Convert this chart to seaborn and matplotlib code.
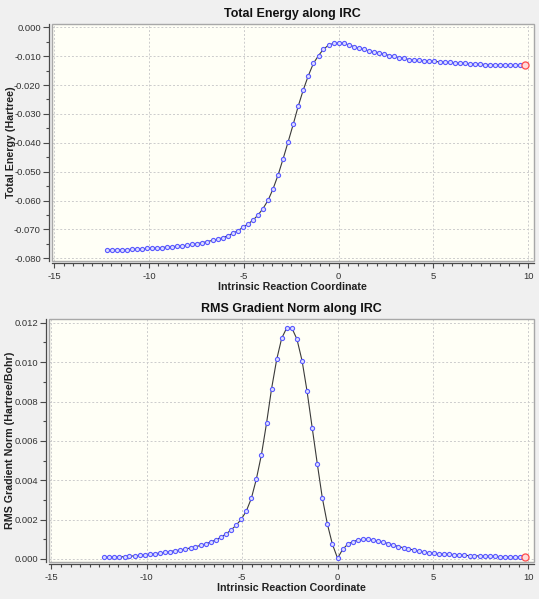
import matplotlib
matplotlib.use("Agg")
import matplotlib.pyplot as plt
import seaborn as sns
from matplotlib.patches import Rectangle
from matplotlib.ticker import MultipleLocator, FuncFormatter

# IRC coordinate (amu^1/2 Bohr): reverse branch up to the TS at 0, then forward branch
irc_reverse = [-12.24, -11.97, -11.70, -11.44, -11.17, -10.91, -10.64, -10.37, -10.11, -9.84,
               -9.58, -9.31, -9.04, -8.78, -8.51, -8.25, -7.98, -7.71, -7.45, -7.18,
               -6.92, -6.65, -6.38, -6.12, -5.85, -5.59, -5.32, -5.05, -4.79, -4.52,
               -4.26, -3.99, -3.72, -3.46, -3.19, -2.93, -2.66, -2.39, -2.13, -1.86,
               -1.60, -1.33, -1.06, -0.80, -0.53, -0.27, 0.00]
irc_forward = [0.27, 0.53, 0.80, 1.06, 1.33, 1.60, 1.86, 2.13, 2.39, 2.66,
               2.93, 3.19, 3.46, 3.72, 3.99, 4.26, 4.52, 4.79, 5.05, 5.32,
               5.59, 5.85, 6.12, 6.38, 6.65, 6.92, 7.18, 7.45, 7.71, 7.98,
               8.25, 8.51, 8.78, 9.04, 9.31, 9.58, 9.84]

# total energy relative (Hartree)
energy_reverse = [-0.0772, -0.0771, -0.0771, -0.0770, -0.0770, -0.0769, -0.0768, -0.0767, -0.0766, -0.0765,
                  -0.0764, -0.0763, -0.0761, -0.0760, -0.0758, -0.0757, -0.0755, -0.0752, -0.0749, -0.0746,
                  -0.0742, -0.0738, -0.0734, -0.0729, -0.0722, -0.0714, -0.0705, -0.0693, -0.0682, -0.0668,
                  -0.0651, -0.0628, -0.0599, -0.0560, -0.0511, -0.0456, -0.0396, -0.0335, -0.0273, -0.0216,
                  -0.0168, -0.0125, -0.0098, -0.0076, -0.0062, -0.0056, -0.0055]
energy_forward = [-0.0056, -0.0061, -0.0067, -0.0072, -0.0077, -0.0082, -0.0085, -0.0088, -0.0093, -0.0098,
                  -0.0101, -0.0105, -0.0108, -0.0112, -0.0114, -0.0115, -0.0116, -0.0117, -0.0118, -0.0120,
                  -0.0121, -0.0122, -0.0123, -0.0124, -0.0125, -0.0127, -0.0128, -0.0128, -0.0129, -0.0129,
                  -0.0130, -0.0130, -0.0131, -0.0132, -0.0132, -0.0132, -0.0132]

# RMS gradient norm (Hartree/Bohr)
grad_reverse = [0.00008, 0.00009, 0.00010, 0.00010, 0.00012, 0.00014, 0.00016, 0.00019, 0.00021, 0.00024,
                0.00027, 0.00030, 0.00034, 0.00038, 0.00042, 0.00046, 0.00051, 0.00056, 0.00062, 0.00069,
                0.00077, 0.00086, 0.00097, 0.00110, 0.00127, 0.00147, 0.00171, 0.00202, 0.00242, 0.00308,
                0.00405, 0.00530, 0.00692, 0.00865, 0.01014, 0.01121, 0.01175, 0.01172, 0.01117, 0.01007,
                0.00853, 0.00667, 0.00482, 0.00311, 0.00176, 0.00075, 0.00004]
grad_forward = [0.00049, 0.00075, 0.00088, 0.00096, 0.00100, 0.00100, 0.00096, 0.00090, 0.00085, 0.00078,
                0.00071, 0.00063, 0.00057, 0.00051, 0.00046, 0.00041, 0.00036, 0.00032, 0.00029, 0.00027,
                0.00025, 0.00024, 0.00022, 0.00020, 0.00019, 0.00017, 0.00017, 0.00015, 0.00015, 0.00014,
                0.00014, 0.00012, 0.00012, 0.00010, 0.00010, 0.00009, 0.00008]

irc = irc_reverse + irc_forward
energy = energy_reverse + energy_forward
grad = grad_reverse + grad_forward

sns.set_style("ticks")
plt.rcParams['font.family'] = ['Liberation Sans', 'DejaVu Sans']


def fmt_y(v, pos):
    if abs(v) < 1e-9:
        v = 0.0
    return "%.3f" % v


def draw_panel(ax, y, title, ylabel, ylim, ymajor, yminor, ylab_x, xlab_y):
    ax.set_facecolor('#fffff6')
    ax.set_axisbelow(True)
    ax.grid(True, which='major', color='#cccccc', linestyle=(0, (2, 2)), linewidth=0.7)

    sns.lineplot(x=irc, y=y, ax=ax, color='#3a3a3a', linewidth=0.8, marker='o',
                 markersize=3.0, markerfacecolor='#dcdcff', markeredgecolor='#5a5aff',
                 markeredgewidth=0.8, sort=False)
    # final point highlighted in red
    sns.scatterplot(x=irc[-1:], y=y[-1:], ax=ax, s=26, facecolor='#ffdada',
                    edgecolor='#ff4a4a', linewidth=0.9, zorder=5)

    ax.set_xlim(-15.13, 10.3)
    ax.set_ylim(*ylim)
    ax.xaxis.set_major_locator(MultipleLocator(5))
    ax.xaxis.set_minor_locator(MultipleLocator(0.5))
    ax.xaxis.set_major_formatter(FuncFormatter(lambda v, p: "%d" % round(v)))
    ax.yaxis.set_major_locator(MultipleLocator(ymajor))
    ax.yaxis.set_minor_locator(MultipleLocator(yminor))
    ax.yaxis.set_major_formatter(FuncFormatter(fmt_y))

    for side in ['top', 'right']:
        ax.spines[side].set_visible(False)
    for side in ['left', 'bottom']:
        ax.spines[side].set_position(('outward', 2))
        ax.spines[side].set_color('#4a4a4a')
        ax.spines[side].set_linewidth(0.9)
    ax.add_patch(Rectangle((0, 0), 1, 1, transform=ax.transAxes, fill=False,
                           edgecolor='#a8a8a8', linewidth=1.0, clip_on=False, zorder=6))

    ax.tick_params(axis='x', which='major', length=3.6, width=0.8, pad=2.5,
                   color='#4a4a4a', labelsize=6.8, labelcolor='#333333')
    ax.tick_params(axis='x', which='minor', length=1.8, width=0.8, color='#4a4a4a')
    ax.tick_params(axis='y', which='major', length=4.3, width=0.8, pad=1.5,
                   color='#4a4a4a', labelsize=6.8, labelcolor='#333333')
    ax.tick_params(axis='y', which='minor', length=2.2, width=0.8, color='#4a4a4a')

    ax.set_title(title, fontsize=9, fontweight='bold', color='#111111', pad=5)
    ax.set_xlabel('Intrinsic Reaction Coordinate', fontsize=7.7, fontweight='bold', color='#222222')
    ax.set_ylabel(ylabel, fontsize=7.7, fontweight='bold', color='#222222')
    ax.xaxis.set_label_coords(0.5, xlab_y)
    ax.yaxis.set_label_coords(ylab_x, 0.5)


fig = plt.figure(figsize=(5.39, 5.99), dpi=100)
fig.patch.set_facecolor('#f0f0f0')

ax1 = fig.add_axes([0.0959, 0.5648, 0.8948, 0.3952])
draw_panel(ax1, energy, 'Total Energy along IRC', 'Total Energy (Hartree)',
           (-0.08083, 0.00114), 0.01, 0.005, -0.074, -0.090)

ax2 = fig.add_axes([0.0909, 0.0623, 0.8998, 0.4051])
draw_panel(ax2, grad, 'RMS Gradient Norm along IRC', 'RMS Gradient Norm (Hartree/Bohr)',
           (-0.000137, 0.01219), 0.002, 0.001, -0.070, -0.088)

fig.savefig('out.png', dpi=100, facecolor=fig.get_facecolor())
